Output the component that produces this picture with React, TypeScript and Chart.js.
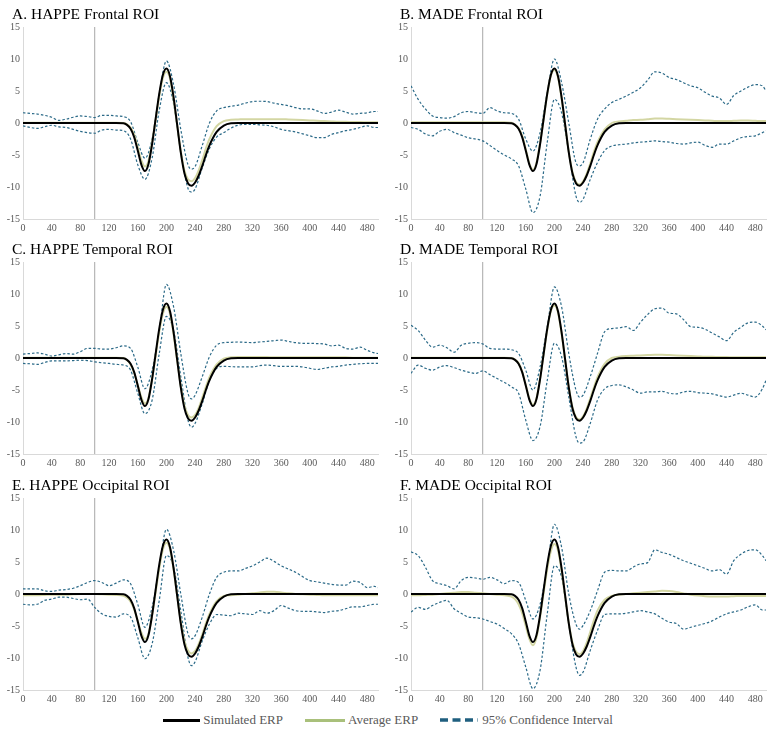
import React, { useEffect, useRef } from 'react';
import { Chart, registerables } from 'chart.js';

Chart.register(...registerables);

const FONT = "'Liberation Serif', 'Times New Roman', serif";

// time axis (ms)
const ERP_TIMES = [
  0, 10, 20, 30, 40, 50, 60, 70, 80, 90, 100, 110, 120, 130, 140,
  145, 150, 155, 160, 165, 170, 175, 180, 185, 190, 195, 200, 205, 210, 215, 220, 225, 230, 235, 240, 245, 250, 255, 260,
  270, 280, 290, 300, 310, 320, 330, 340, 350, 360, 370, 380, 390, 400, 410, 420, 430, 440, 450, 460, 470, 480, 490,
  495,
];
const CI_TIMES = [
  0, 10, 20, 30, 40, 50, 60, 70, 80, 90, 100, 110, 120, 130, 140, 150, 160, 170, 180, 190, 200, 210, 220, 230,
  235,
  240, 250, 260, 270, 280, 290, 300, 310, 320, 330, 340, 350, 360, 370, 380, 390, 400, 410, 420, 430, 440, 450, 460, 470, 480, 490,
  495,
];
const X_TICKS = [0, 40, 80, 120, 160, 200, 240, 280, 320, 360, 400, 440, 480];
const Y_TICKS = [-15, -10, -5, 0, 5, 10, 15];
const Y_MIN = -15;
const Y_MAX = 15;
const X_MIN = 0;
const X_MAX = 495;
const STIMULUS_ONSET = 100;

const SIMULATED_ERP = [
  0, 0, 0, 0, 0, 0, 0, 0, 0, 0, 0, 0, 0, 0, -0.05,
  -0.3, -0.9, -2.2, -4.3, -6.5, -7.5, -6.4, -3.3, 0.7, 4.6, 7.5, 8.5, 7.3, 4.0, -0.3, -4.6, -7.8, -9.4, -9.8, -9.3, -8.2, -6.7, -5.0, -3.5,
  -1.4, -0.4, -0.05, 0, 0, 0, 0, 0, 0, 0, 0, 0, 0, 0, 0, 0, 0, 0, 0, 0, 0, 0, 0,
  0,
];

const AVG_A = [
  0.05, 0.05, 0.05, 0.05, 0.05, 0.05, 0.05, 0.05, 0.05, 0.05, 0.05, 0.05, 0.05, 0.05, 0.0,
  -0.2, -0.7, -1.8, -3.8, -5.8, -6.8, -5.9, -3.0, 0.6, 4.2, 7.0, 8.0, 6.9, 3.6, -0.4, -4.4, -7.4, -8.8, -9.1, -8.6, -7.4, -5.8, -4.0, -2.5,
  -0.5, 0.3, 0.5, 0.55, 0.6, 0.6, 0.6, 0.6, 0.6, 0.6, 0.55, 0.5, 0.45, 0.4, 0.35, 0.3, 0.25, 0.2, 0.2, 0.15, 0.15, 0.1, 0.1,
  0.1,
];
const AVG_B = [
  0.1, 0.1, 0.1, 0.1, 0.1, 0.1, 0.1, 0.1, 0.1, 0.1, 0.1, 0.1, 0.1, 0.1, 0.05,
  -0.25, -0.8, -2.0, -4.1, -6.3, -7.3, -6.2, -3.1, 0.7, 4.5, 7.4, 8.3, 7.1, 3.8, -0.4, -4.5, -7.6, -9.2, -9.6, -9.1, -7.9, -6.3, -4.5, -3.0,
  -1.0, 0.0, 0.25, 0.35, 0.45, 0.5, 0.6, 0.7, 0.7, 0.65, 0.6, 0.55, 0.5, 0.45, 0.4, 0.35, 0.3, 0.3, 0.35, 0.4, 0.4, 0.35, 0.3,
  0.3,
];
const AVG_C = [
  0.05, 0.05, 0.05, 0.05, 0.05, 0.05, 0.05, 0.05, 0.05, 0.05, 0.05, 0.05, 0.05, 0.05, 0.0,
  -0.3, -1.0, -2.3, -4.2, -6.1, -7.1, -6.2, -3.3, 0.4, 4.1, 6.9, 8.0, 6.9, 3.7, -0.4, -4.4, -7.4, -8.9, -9.3, -8.9, -7.8, -6.2, -4.5, -3.0,
  -1.0, -0.1, 0.1, 0.15, 0.15, 0.15, 0.15, 0.15, 0.1, 0.1, 0.1, 0.1, 0.1, 0.1, 0.1, 0.1, 0.1, 0.1, 0.1, 0.05, 0.05, 0.05, 0.05,
  0.05,
];
const AVG_D = [
  0.05, 0.05, 0.05, 0.05, 0.05, 0.05, 0.05, 0.05, 0.05, 0.05, 0.05, 0.05, 0.05, 0.05, 0.0,
  -0.25, -0.8, -2.1, -4.2, -6.3, -7.3, -6.3, -3.2, 0.6, 4.4, 7.3, 8.2, 7.1, 3.8, -0.4, -4.5, -7.6, -9.2, -9.6, -9.1, -7.9, -6.3, -4.6, -3.0,
  -0.9, 0.0, 0.2, 0.3, 0.35, 0.4, 0.45, 0.5, 0.5, 0.45, 0.4, 0.35, 0.3, 0.25, 0.2, 0.2, 0.15, 0.15, 0.1, 0.1, 0.1, 0.1, 0.1,
  0.1,
];
const AVG_E = [
  -0.2, -0.2, -0.2, -0.15, -0.1, -0.1, -0.1, -0.05, 0.0, 0.0, 0.0, -0.05, -0.1, -0.15, -0.3,
  -0.6, -1.2, -2.4, -4.2, -6.0, -7.0, -6.2, -3.4, 0.3, 4.0, 6.9, 8.0, 7.0, 3.8, -0.3, -4.3, -7.3, -8.8, -9.3, -8.9, -7.8, -6.3, -4.6, -3.1,
  -1.1, -0.3, -0.2, -0.1, 0.0, 0.1, 0.25, 0.35, 0.35, 0.25, 0.1, 0.0, -0.05, -0.1, -0.15, -0.2, -0.2, -0.2, -0.2, -0.2, -0.2, -0.2, -0.2,
  -0.2,
];
const AVG_F = [
  -0.2, -0.2, -0.15, -0.1, 0.0, 0.1, 0.2, 0.3, 0.3, 0.2, 0.1, 0.0, -0.1, -0.2, -0.4,
  -0.8, -1.6, -3.0, -5.0, -7.0, -8.0, -6.8, -3.6, 0.2, 3.9, 6.7, 7.8, 6.8, 3.6, -0.5, -4.5, -7.5, -9.0, -9.4, -8.9, -7.6, -5.9, -4.1, -2.6,
  -0.9, -0.3, -0.1, 0.0, 0.1, 0.2, 0.3, 0.4, 0.5, 0.45, 0.3, 0.1, -0.1, -0.25, -0.35, -0.4, -0.4, -0.4, -0.35, -0.3, -0.3, -0.3, -0.3,
  -0.3,
];

const CI_UPPER_A = [
  1.6, 1.5, 1.4, 1.2, 0.9, 0.4, 0.6, 0.9, 1.1, 1.0, 0.85, 1.2, 1.2, 1.1, 1.0, 0.2, -3.0, -5.5, -2.5, 4.5, 9.7, 6.0, -1.0, -6.5,
  -7.2,
  -6.8, -3.5, 0.0, 1.9, 2.4, 2.6, 2.8, 3.1, 3.35, 3.4, 3.35, 3.1, 2.9, 2.7, 2.4, 2.2, 2.2, 1.9, 1.5, 1.7, 2.0, 1.7, 1.4, 1.5, 1.6, 1.8,
  1.8,
];
const CI_LOWER_A = [
  -0.45, -0.7, -0.85, -0.6, -0.35, -0.6, -0.7, -1.0, -1.3, -1.5, -1.6, -1.1, -1.0, -1.1, -1.2, -2.5, -6.5, -8.8, -5.5, 2.0, 6.3, 3.0, -4.5, -10.2,
  -10.8,
  -10.3, -7.0, -4.0, -2.2, -1.5, -0.8, -0.35, -0.2, -0.2, -0.3, -0.35, -0.6, -1.0, -1.2, -1.4, -1.7, -2.0, -2.3, -2.3, -1.8, -1.5, -1.2, -1.0, -0.7, -0.45, -0.7,
  -0.7,
];
const CI_UPPER_B = [
  5.8, 3.7, 2.2, 1.1, 0.85, 0.75, 1.0, 1.6, 1.8, 1.6, 1.5, 2.4, 1.9, 1.6, 1.5, 0.6, -2.5, -4.4, -1.5, 4.8, 10.0, 6.3, 0.0, -6.2,
  -6.7,
  -6.2, -2.5, 0.6, 2.2, 3.2, 3.7, 4.2, 4.8, 5.5, 6.7, 8.0, 7.8, 7.1, 6.8, 6.3, 5.8, 5.5, 4.8, 4.2, 3.9, 2.9, 4.3, 5.0, 5.6, 6.0, 5.8,
  5.0,
];
const CI_LOWER_B = [
  -0.7, -1.0, -1.7, -2.0, -1.3, -1.0, -1.5, -1.9, -2.3, -2.5, -2.8, -3.5, -4.3, -5.0, -5.6, -6.7, -10.3, -14.0, -11.4, -3.0, 3.7, 1.6, -4.6, -11.4,
  -12.4,
  -11.9, -8.8, -6.2, -4.3, -3.6, -3.4, -3.3, -3.1, -3.0, -2.9, -2.8, -2.9, -3.0, -3.2, -3.3, -3.1, -3.0, -3.5, -3.8, -3.3, -3.3, -2.8, -2.3, -2.1, -2.0, -1.5,
  -1.2,
];
const CI_UPPER_C = [
  0.6, 0.7, 0.8, 0.6, 0.3, 0.5, 0.7, 0.6, 1.0, 1.5, 1.5, 1.4, 1.4, 1.6, 1.9, 1.5, -1.4, -4.8, -1.9, 4.3, 11.5, 8.0, 0.7, -5.5,
  -6.4,
  -5.8, -2.9, 0.2, 2.0, 2.4, 2.45, 2.5, 2.45, 2.4, 2.5, 2.6, 2.7, 2.8, 2.6, 2.4, 2.3, 2.3, 2.25, 2.2, 1.9, 2.0, 1.5, 1.4, 1.7, 1.2, 0.8,
  0.7,
];
const CI_LOWER_C = [
  -0.85, -0.9, -1.0, -0.7, -0.45, -0.45, -0.45, -0.4, -0.35, -0.4, -0.6, -0.75, -0.85, -1.0, -1.1, -1.9, -5.5, -8.7, -6.6, 0.7, 6.5, 4.3, -2.9, -9.7,
  -10.8,
  -10.2, -7.1, -3.5, -1.6, -1.3, -1.35, -1.4, -1.4, -1.4, -1.2, -1.1, -1.2, -1.3, -1.3, -1.3, -1.4, -1.6, -1.8, -1.6, -1.4, -1.3, -1.1, -1.0, -0.9, -0.85, -0.85,
  -0.85,
];
const CI_UPPER_D = [
  5.1, 4.3, 2.8, 1.7, 2.0, 1.6, 0.9, 2.0, 2.3, 2.4, 2.2, 1.5, 1.4, 1.4, 1.3, 0.7, -1.9, -5.0, -1.4, 4.9, 11.1, 8.0, 0.7, -5.0,
  -6.1,
  -5.8, -2.9, 0.7, 4.1, 4.6, 4.7, 4.9, 4.3, 5.6, 6.8, 7.7, 7.8, 7.0, 6.9, 6.0, 4.9, 4.8, 4.5, 3.9, 3.3, 2.7, 4.0, 4.8, 5.5, 5.6, 5.0,
  4.4,
];
const CI_LOWER_D = [
  -2.4, -1.1, -1.6, -1.9, -1.4, -1.2, -1.5, -1.9, -2.2, -2.4, -2.0, -2.6, -3.2, -3.8, -4.5, -5.5, -9.7, -12.9, -10.7, -3.5, 2.3, 0.2, -6.1, -12.3,
  -13.3,
  -13.1, -10.2, -6.6, -4.8, -4.3, -4.2, -4.5, -5.0, -5.5, -5.3, -5.3, -5.2, -5.5, -5.6, -5.3, -5.2, -5.4, -5.5, -5.6, -5.9, -6.1, -5.8, -5.5, -5.8, -6.1, -4.8,
  -3.5,
];
const CI_UPPER_E = [
  0.8, 0.8, 0.8, 0.5, 0.4, 0.6, 0.7, 0.9, 1.3, 1.8, 2.1, 1.8, 1.3, 1.7, 2.2, 1.6, -1.6, -5.2, -2.1, 4.2, 10.1, 6.8, 0.0, -6.2,
  -7.0,
  -6.5, -3.6, 0.0, 2.6, 3.4, 3.6, 3.6, 4.0, 4.4, 5.0, 5.6, 5.1, 4.4, 3.9, 3.4, 2.7, 2.1, 1.9, 1.7, 1.5, 1.4, 1.4, 2.0, 1.8, 1.0, 1.2,
  1.0,
];
const CI_LOWER_E = [
  -1.6, -1.7, -1.6, -1.0, -0.8, -0.5, -0.5, -0.7, -0.9, -0.8, -2.1, -3.1, -3.5, -3.6, -3.1, -3.6, -6.8, -10.1, -7.8, -1.0, 6.0, 4.2, -2.6, -9.9,
  -11.2,
  -10.6, -7.3, -4.7, -3.2, -3.3, -3.4, -3.0, -3.1, -3.2, -2.6, -3.0, -2.6, -1.8, -2.2, -2.6, -2.7, -2.7, -2.8, -2.9, -2.7, -2.6, -2.3, -2.0, -2.0, -1.8, -1.6,
  -1.6,
];
const CI_UPPER_F = [
  6.6, 6.0, 4.2, 2.1, 1.6, 1.3, 0.8, 2.1, 2.6, 2.5, 2.3, 2.6, 2.2, 1.6, 2.1, 1.8, -1.0, -3.9, -1.6, 4.2, 10.9, 7.3, 0.0, -4.7,
  -5.5,
  -4.9, -2.6, 0.5, 3.4, 3.7, 3.6, 3.6, 4.2, 4.7, 4.9, 6.9, 6.5, 6.2, 5.7, 5.2, 4.8, 4.4, 4.0, 3.6, 3.8, 3.1, 5.2, 6.2, 6.8, 6.9, 6.0,
  5.2,
];
const CI_LOWER_F = [
  -2.8, -2.1, -2.4, -1.8, -1.3, -1.0, -2.3, -3.0, -3.6, -3.7, -3.9, -4.3, -4.7, -5.4, -6.2, -7.8, -11.4, -14.8, -11.9, -3.1, 4.4, 2.6, -4.7, -11.4,
  -12.7,
  -12.2, -8.8, -5.7, -3.2, -3.1, -3.1, -3.0, -2.8, -2.6, -2.8, -3.1, -3.8, -4.4, -4.6, -5.5, -5.2, -4.9, -4.6, -4.2, -3.6, -3.1, -2.8, -2.5, -2.0, -1.7, -2.5,
  -2.5,
];

const PANEL_TITLES = [
  'A. HAPPE Frontal ROI',
  'B. MADE Frontal ROI',
  'C. HAPPE Temporal ROI',
  'D. MADE Temporal ROI',
  'E. HAPPE Occipital ROI',
  'F. MADE Occipital ROI',
];
const PANEL_AVG = [AVG_A, AVG_B, AVG_C, AVG_D, AVG_E, AVG_F];
const PANEL_UPPER = [CI_UPPER_A, CI_UPPER_B, CI_UPPER_C, CI_UPPER_D, CI_UPPER_E, CI_UPPER_F];
const PANEL_LOWER = [CI_LOWER_A, CI_LOWER_B, CI_LOWER_C, CI_LOWER_D, CI_LOWER_E, CI_LOWER_F];

const LEGEND_LABELS = ['Simulated ERP', 'Average ERP', '95% Confidence Interval'];

const COLOR_SIM = '#000000';
const COLOR_AVG_PLOT = '#d3d6a3';
const COLOR_AVG_LEGEND = '#a9c07b';
const COLOR_CI = '#2b6a88';
const COLOR_CI_LEGEND = '#1f5f7f';
const COLOR_AXIS = '#d9d9d9';
const COLOR_TICK = '#595959';

const toPts = (xs: number[], ys: number[]) => xs.map((x, i) => ({ x, y: ys[i] }));

const panelTitlePlugin = {
  id: 'panelTitle',
  afterDraw(chart: any, _args: any, opts: any) {
    const ctx = chart.ctx;
    ctx.save();
    ctx.fillStyle = '#000';
    ctx.font = `15.5px ${FONT}`;
    ctx.textAlign = 'left';
    ctx.textBaseline = 'alphabetic';
    ctx.fillText(opts.text, 12, 19);
    ctx.restore();
  },
};

function Panel({ title, avg, upper, lower }: { title: string; avg: number[]; upper: number[]; lower: number[] }) {
  const ref = useRef<HTMLCanvasElement | null>(null);
  useEffect(() => {
    if (!ref.current) return;
    const chart = new Chart(ref.current, {
      type: 'line',
      data: {
        datasets: [
          { label: LEGEND_LABELS[0], data: toPts(ERP_TIMES, SIMULATED_ERP), borderColor: COLOR_SIM, borderWidth: 2, order: 0 },
          { label: LEGEND_LABELS[1], data: toPts(ERP_TIMES, avg), borderColor: COLOR_AVG_PLOT, borderWidth: 2, order: 1 },
          { label: 'Upper CI', data: toPts(CI_TIMES, upper), borderColor: COLOR_CI, borderWidth: 1.2, borderDash: [2.5, 2], order: 2 },
          { label: 'Lower CI', data: toPts(CI_TIMES, lower), borderColor: COLOR_CI, borderWidth: 1.2, borderDash: [2.5, 2], order: 2 },
          {
            label: 'Onset',
            data: [{ x: STIMULUS_ONSET, y: Y_MIN }, { x: STIMULUS_ONSET, y: Y_MAX }],
            borderColor: '#a8a8a8', borderWidth: 1, order: 3, cubicInterpolationMode: 'default', tension: 0,
          },
        ] as any,
      },
      options: {
        responsive: false,
        animation: false,
        elements: {
          point: { radius: 0, hoverRadius: 0 },
          line: { cubicInterpolationMode: 'monotone', fill: false },
        },
        layout: { padding: { left: 0, right: 10, top: 27, bottom: 0 } },
        plugins: {
          legend: { display: false },
          tooltip: { enabled: false },
          title: { display: false },
          panelTitle: { text: title },
        },
        scales: {
          x: {
            type: 'linear',
            min: X_MIN,
            max: X_MAX,
            grid: { display: false, drawTicks: false },
            border: { display: true, color: COLOR_AXIS },
            ticks: { color: COLOR_TICK, font: { family: FONT, size: 10 }, padding: 3, maxRotation: 0, autoSkip: false },
            afterBuildTicks: (s: any) => { s.ticks = X_TICKS.map((v) => ({ value: v })); },
            afterFit: (s: any) => { s.height = 17; },
          },
          y: {
            type: 'linear',
            min: Y_MIN,
            max: Y_MAX,
            grid: { display: false, drawTicks: false },
            border: { display: true, color: COLOR_AXIS },
            ticks: { color: COLOR_TICK, font: { family: FONT, size: 10 }, padding: 3 },
            afterBuildTicks: (s: any) => { s.ticks = Y_TICKS.map((v) => ({ value: v })); },
            afterFit: (s: any) => { s.width = 23; },
          },
        },
      } as any,
      plugins: [panelTitlePlugin],
    });
    return () => chart.destroy();
  }, [title, avg, upper, lower]);
  return <canvas ref={ref} width={388} height={236} style={{ display: 'block', width: 388, height: 236 }} />;
}

function LegendItem({ kind, label }: { kind: number; label: string }) {
  let sample;
  if (kind === 2) {
    sample = (
      <svg width={38} height={6} style={{ marginRight: 4 }}>
        <line x1={0} y1={3} x2={38} y2={3} stroke={COLOR_CI_LEGEND} strokeWidth={3.5} strokeDasharray="8 4.5" />
      </svg>
    );
  } else {
    sample = (
      <div style={{ width: kind === 0 ? 37 : 40, height: 3, background: kind === 0 ? COLOR_SIM : COLOR_AVG_LEGEND, marginRight: 3 }} />
    );
  }
  return (
    <div style={{ display: 'flex', alignItems: 'center', margin: '0 11px' }}>
      {sample}
      <span style={{ fontFamily: FONT, fontSize: 13, color: COLOR_TICK, whiteSpace: 'nowrap' }}>{label}</span>
    </div>
  );
}

export default function App() {
  const tops = [0, 235, 471];
  return (
    <div style={{ position: 'fixed', left: 0, top: 0, width: 776, height: 732, background: '#fff', overflow: 'hidden' }}>
      {PANEL_TITLES.map((t, i) => (
        <div key={t} style={{ position: 'absolute', left: (i % 2) * 388, top: tops[Math.floor(i / 2)] }}>
          <Panel title={t} avg={PANEL_AVG[i]} upper={PANEL_UPPER[i]} lower={PANEL_LOWER[i]} />
        </div>
      ))}
      <div style={{ position: 'absolute', left: 0, top: 709, width: 776, height: 22, display: 'flex', justifyContent: 'center', alignItems: 'center' }}>
        {LEGEND_LABELS.map((l, i) => (
          <LegendItem key={l} kind={i} label={l} />
        ))}
      </div>
    </div>
  );
}
